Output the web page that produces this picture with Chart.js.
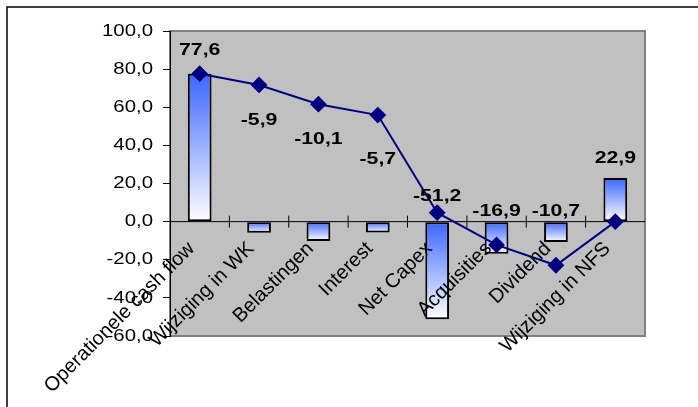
<!DOCTYPE html>
<html>
<head>
<meta charset="utf-8">
<script src="https://cdn.jsdelivr.net/npm/chart.js@4.4.0/dist/chart.umd.min.js"></script>
<style>
  html, body { margin: 0; padding: 0; background: #fff; }
  #wrap { width: 698px; height: 407px; }
</style>
</head>
<body>
<div id="wrap"><canvas id="chart"></canvas></div>
<script>
// data
const categories = ["Operationele cash flow", "Wijziging in WK", "Belastingen", "Interest",
    "Net Capex", "Acquisities", "Dividend", "Wijziging in NFS"];
const changes = [77.6, -5.9, -10.1, -5.7, -51.2, -16.9, -10.7, 22.9];
const cumulative = [77.6, 71.7, 61.6, 55.9, 4.7, -12.2, -22.9, 0.0];
const yTicks = [-60, -40, -20, 0, 20, 40, 60, 80, 100];

// where the value labels sit (in axis units)
const labelAt = [90, 53.3, 43, 32.6, 13.4, 5.6, 5.6, 33.3];

const FONT = "'Liberation Sans', Arial, sans-serif";

function fmt(v) {
    return v.toFixed(1).replace(".", ",");
}

// bar fill: blue at top, white at bottom
function barGradient(ctx) {
    const chart = ctx.chart;
    const ys = chart.scales.y;
    if (!ys || ctx.raw === undefined) return "#3a66ff";
    const p0 = ys.getPixelForValue(0);
    const p1 = ys.getPixelForValue(ctx.raw);
    const top = Math.min(p0, p1);
    const bottom = Math.max(p0, p1);
    if (!isFinite(top) || !isFinite(bottom) || bottom - top < 1) return "#3a66ff";
    const g = chart.ctx.createLinearGradient(0, top, 0, bottom);
    g.addColorStop(0, "#3a66ff");
    g.addColorStop(1, "#ffffff");
    return g;
}

// gray plot area + outer frame
const backdrop = {
    id: "backdrop",
    beforeDraw(chart) {
        const c = chart.ctx;
        const a = chart.chartArea;
        c.save();
        c.strokeStyle = "#000";
        c.lineWidth = 1.5;
        c.strokeRect(7, 7, 760, 460);
        c.fillStyle = "#c0c0c0";
        c.fillRect(a.left, a.top, a.right - a.left, a.bottom - a.top);
        c.strokeStyle = "#808080";
        c.lineWidth = 2;
        c.strokeRect(a.left, a.top, a.right - a.left, a.bottom - a.top);
        c.restore();
    }
};

// zero line, category ticks, y labels and rotated labels
const categoryAxis = {
    id: "categoryAxis",
    beforeDatasetsDraw(chart) {
        const c = chart.ctx;
        const y = chart.scales.y;
        const a = chart.chartArea;
        const y0 = y.getPixelForValue(0);
        c.save();
        c.strokeStyle = "#000";
        c.lineWidth = 1;
        c.beginPath();
        c.moveTo(a.left, y0);
        c.lineTo(a.right, y0);
        const step = (a.right - a.left) / categories.length;
        for (let i = 1; i < categories.length; i++) {
            const xt = a.left + i * step;
            c.moveTo(xt, y0 - 6);
            c.lineTo(xt, y0 + 6);
        }
        c.stroke();
        c.restore();
    },
    afterDraw(chart) {
        const c = chart.ctx;
        const x = chart.scales.x;
        const y = chart.scales.y;
        const a = chart.chartArea;
        const y0 = y.getPixelForValue(0);
        c.save();
        c.fillStyle = "#000";

        // y tick labels, a bit wide like the original
        c.font = "17px " + FONT;
        c.textAlign = "right";
        c.textBaseline = "middle";
        yTicks.forEach(v => {
            c.save();
            c.translate(a.left - 17, y.getPixelForValue(v));
            c.scale(1.2, 1);
            c.fillText(fmt(v), 0, 0);
            c.restore();
        });

        // category labels
        c.font = "20px " + FONT;
        categories.forEach((lab, i) => {
            const cx = x.getPixelForValue(i);
            c.save();
            c.translate(cx - 8, y0 + 24);
            c.rotate(-Math.PI / 4);
            c.fillText(lab, 0, 0);
            c.restore();
        });

        // value labels
        c.font = "bold 17px " + FONT;
        c.textAlign = "center";
        changes.forEach((v, i) => {
            c.save();
            c.translate(x.getPixelForValue(i), y.getPixelForValue(labelAt[i]));
            c.scale(1.25, 1);
            c.fillText(fmt(v), 0, 0);
            c.restore();
        });
        c.restore();
    }
};

const ctx = document.getElementById("chart").getContext("2d");
const chart = new Chart(ctx, {
    data: {
        labels: categories,
        datasets: [
            {
                type: "line",
                data: cumulative,
                borderColor: "#000080",
                backgroundColor: "#000080",
                borderWidth: 2,
                pointStyle: "rectRot",
                pointRadius: 7,
                pointHoverRadius: 7,
                tension: 0,
                order: 0
            },
            {
                type: "bar",
                data: changes,
                backgroundColor: barGradient,
                borderColor: "#000",
                borderWidth: 2,
                borderSkipped: false,
                categoryPercentage: 1,
                barPercentage: 0.4,
                order: 1
            }
        ]
    },
    options: {
        responsive: true,
        maintainAspectRatio: false,
        animation: false,
        layout: { padding: { left: 0, top: 31, right: 53, bottom: 71 } },
        plugins: {
            legend: { display: false },
            tooltip: { enabled: false }
        },
        scales: {
            x: {
                type: "category",
                display: false,
                offset: true
            },
            y: {
                min: -60,
                max: 100,
                afterBuildTicks(scale) {
                    scale.ticks = yTicks.map(v => ({ value: v }));
                },
                afterFit(scale) {
                    scale.width = 170;
                },
                grid: {
                    drawOnChartArea: false,
                    color: "#000",
                    tickLength: 7,
                    tickWidth: 1
                },
                border: { color: "#000", width: 1 },
                ticks: {
                    color: "rgba(0,0,0,0)",
                    padding: 4,
                    font: { family: FONT, size: 17 },
                    callback: v => fmt(v)
                }
            }
        }
    },
    plugins: [backdrop, categoryAxis]
});
</script>
</body>
</html>
